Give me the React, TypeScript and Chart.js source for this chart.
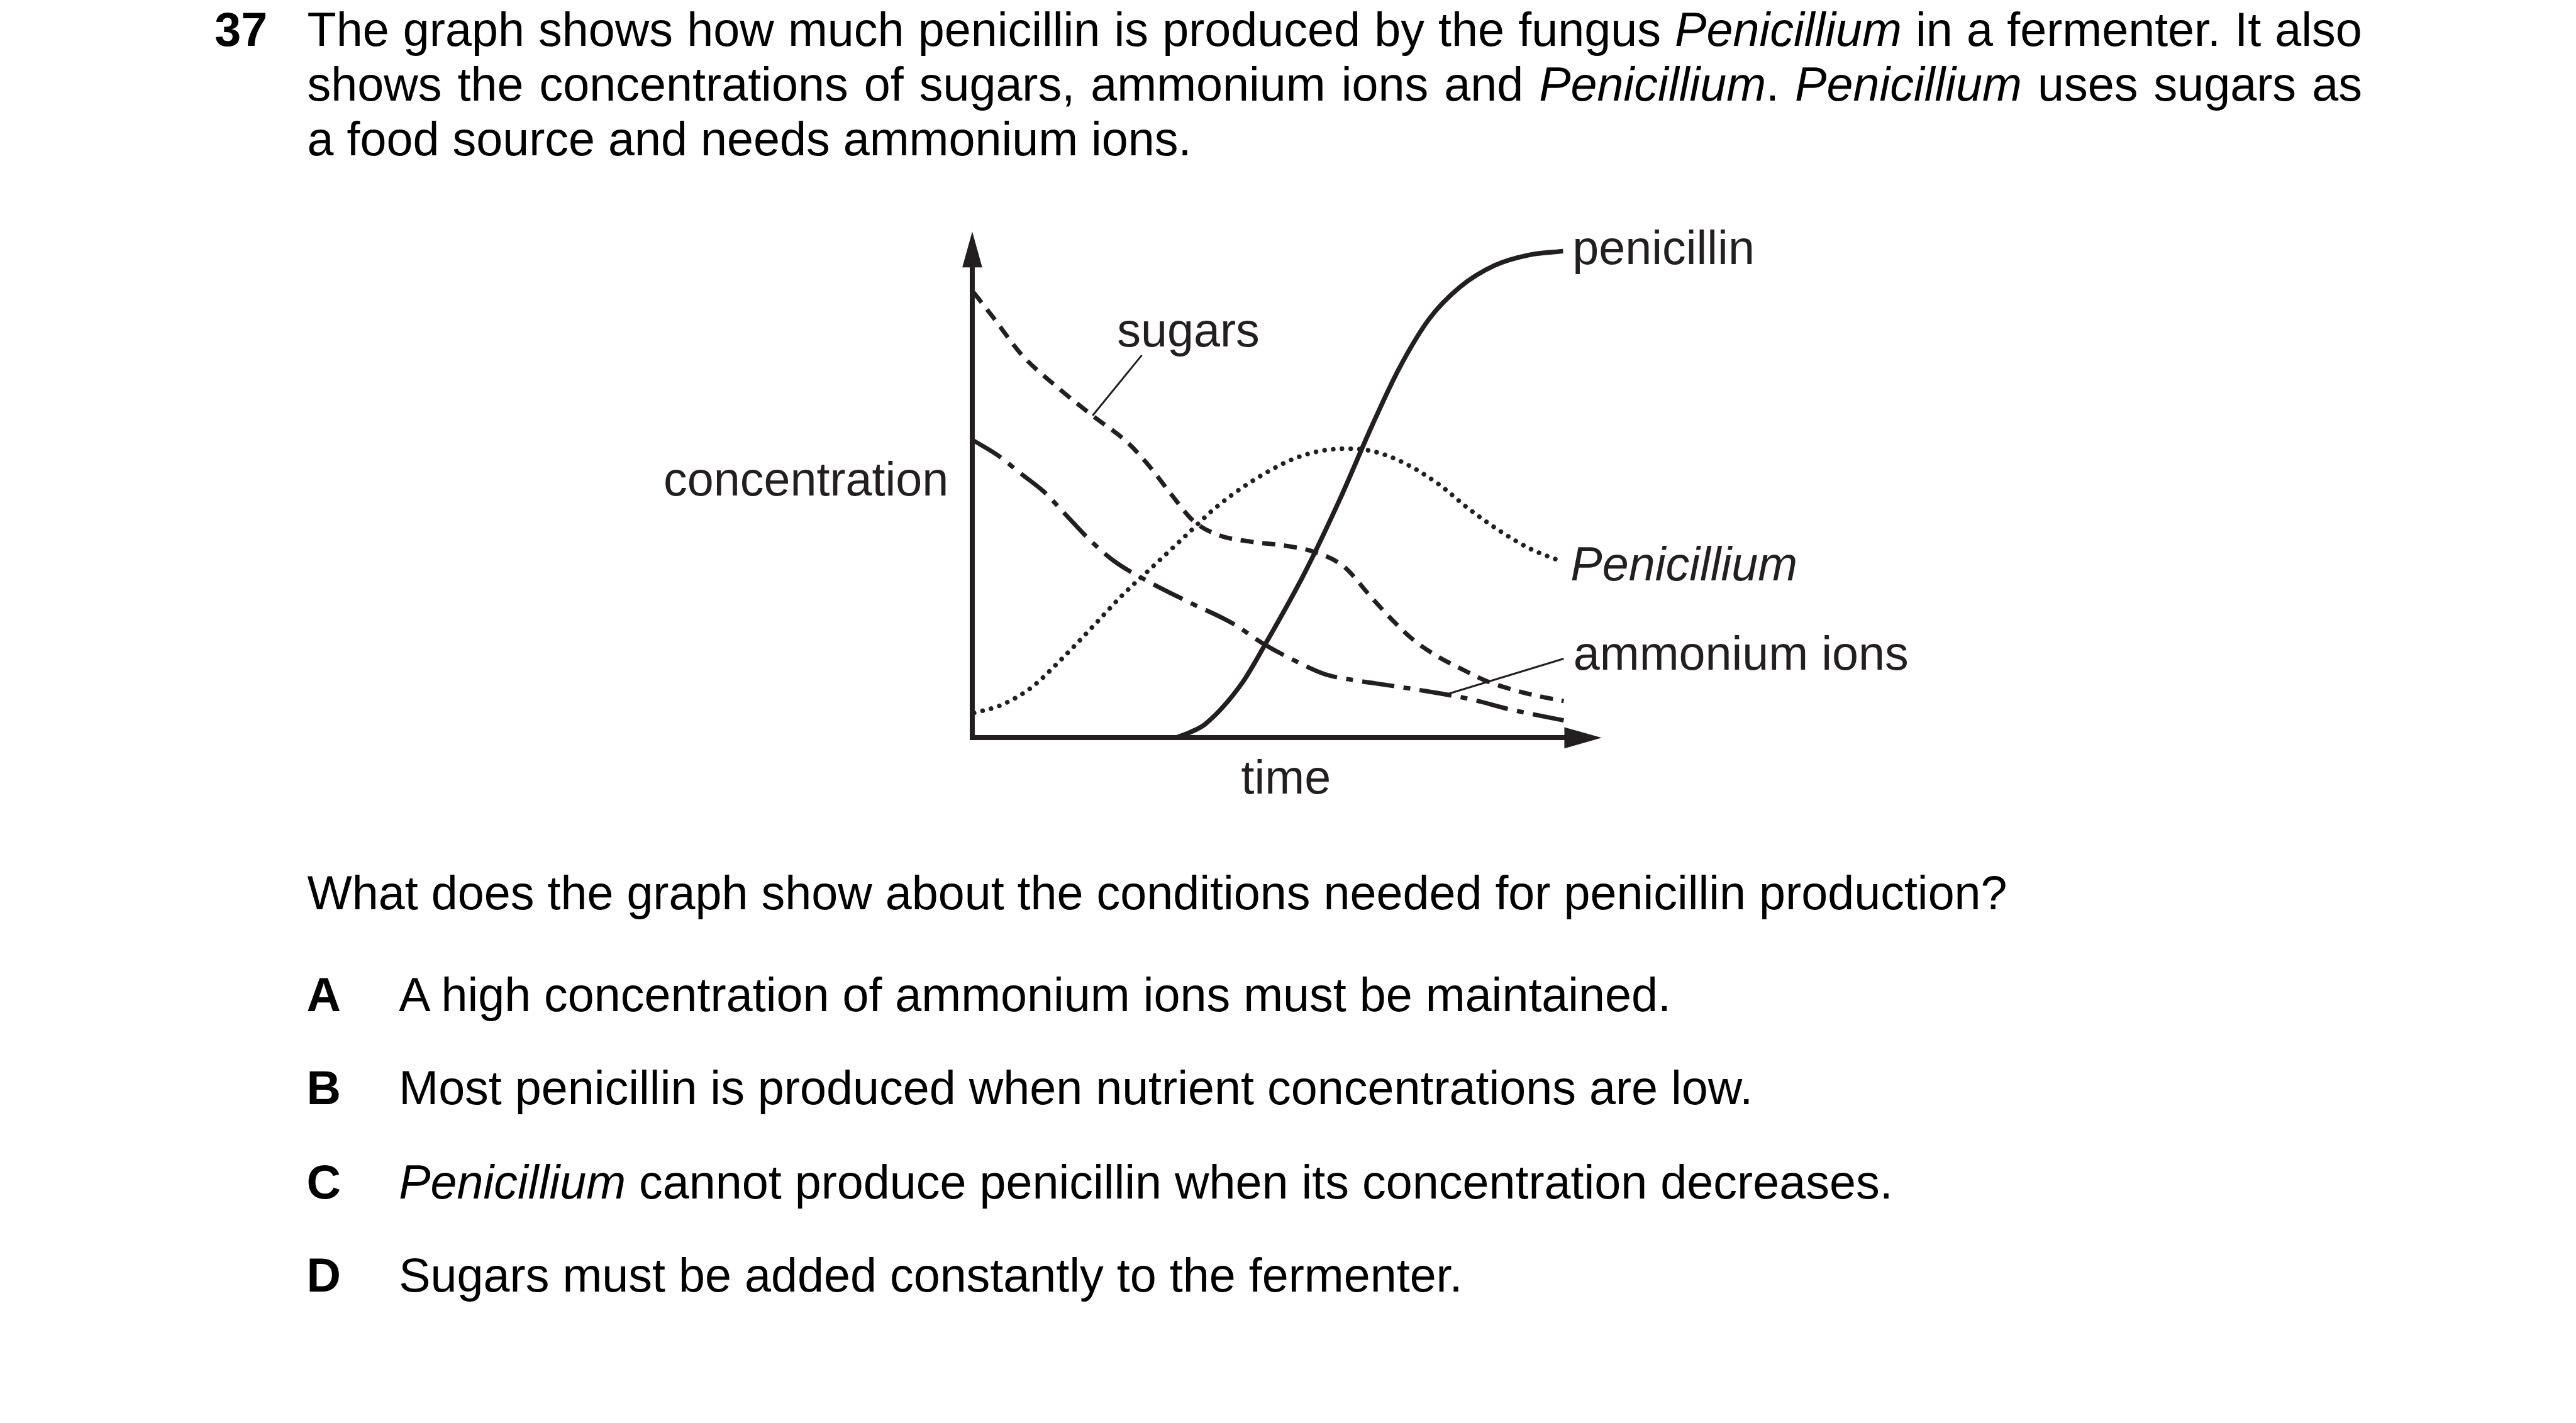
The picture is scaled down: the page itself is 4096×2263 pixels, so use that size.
import React, { useEffect, useRef } from "react";
import { Chart, registerables } from "chart.js";

Chart.register(...registerables);

// ---------------- data (time units, concentration units) ----------------
const penicillinTime = [32.6, 35.0, 37.5, 43.3, 47.0, 53.3, 58.9, 64.1, 68.4, 73.3, 78.2, 83.8, 89.4, 94.8];
const penicillinConc = [0, 0.9, 2.3, 8.8, 15.0, 26.4, 38.1, 50.0, 59.1, 67.2, 72.3, 75.8, 77.5, 78.1];

const sugarsTime = [0.2, 3.1, 8.0, 13.6, 19.3, 24.9, 28.4, 31.9, 35.5, 39.6, 44.5, 50.4, 55.0, 59.6, 63.9, 67.3, 70.8, 74.6, 78.4, 82.3, 86.1, 89.9, 94.9];
const sugarsConc = [71.5, 67.8, 61.4, 56.3, 51.7, 47.4, 43.6, 39.1, 34.8, 32.5, 31.5, 30.8, 29.8, 27.5, 22.7, 19.0, 15.7, 13.1, 11.1, 9.2, 7.9, 6.9, 5.9];

const ammoniumTime = [0.2, 4.0, 7.8, 11.6, 15.1, 18.9, 22.7, 28.4, 34.7, 41.7, 46.7, 51.7, 56.6, 61.6, 67.0, 74.6, 80.4, 86.1, 94.9];
const ammoniumConc = [47.7, 45.4, 42.4, 39.4, 35.7, 31.7, 28.4, 25.0, 21.8, 18.4, 15.1, 12.4, 10.2, 9.2, 8.4, 7.2, 6.1, 4.6, 2.8];

const penicilliumTime = [0.3, 4.5, 9.4, 14.3, 19.3, 24.2, 29.1, 34.0, 38.9, 44.3, 51.4, 55.7, 59.9, 64.2, 69.1, 74.7, 79.6, 84.5, 89.4, 94.8];
const penicilliumConc = [4.0, 5.2, 8.0, 12.6, 17.8, 23.0, 27.6, 32.2, 36.8, 40.8, 44.7, 46.0, 46.4, 46.0, 44.2, 40.8, 36.8, 33.3, 30.4, 28.2];

// label leader lines
const sugarsLeaderTime = [27.2, 19.3];
const sugarsLeaderConc = [61.4, 51.7];
const ammoniumLeaderTime = [94.9, 76.5];
const ammoniumLeaderConc = [12.7, 7.1];

// texts
const questionNumber = "37";
const stemLines: [string, boolean][][] = [
  [["The graph shows how much penicillin is produced by the fungus ", false], ["Penicillium", true], [" in a fermenter. It also", false]],
  [["shows the concentrations of sugars, ammonium ions and ", false], ["Penicillium", true], [". ", false], ["Penicillium", true], [" uses sugars as", false]],
  [["a food source and needs ammonium ions.", false]],
];
const questionText = "What does the graph show about the conditions needed for penicillin production?";
const optionLetters = ["A", "B", "C", "D"];
const optionTexts: [string, boolean][][] = [
  [["A high concentration of ammonium ions must be maintained.", false]],
  [["Most penicillin is produced when nutrient concentrations are low.", false]],
  [["Penicillium", true], [" cannot produce penicillin when its concentration decreases.", false]],
  [["Sugars must be added constantly to the fermenter.", false]],
];
const yAxisLabel = "concentration";
const xAxisLabel = "time";
const seriesLabels = ["penicillin", "Penicillium", "ammonium ions", "sugars"];

// ---------------- layout / style ----------------
const S = 0.991;
const W = 4096;
const H = 2263;
const FONT = '"Liberation Sans", Arial, Helvetica, sans-serif';
const FS = 76.2 * S;
const INK = "#231f20";
const X_MAX = 95;
const Y_MAX = 75.5;

// chart-area edges in reference pixels
const AREA_LEFT = 1560 * S;
const AREA_RIGHT = 2510 * S;
const AREA_TOP = 429 * S;
const AREA_BOTTOM = 1184 * S;

const labelAnchors = [
  { text: seriesLabels[0], x: 96.3, y: 75.98, align: "left", italic: false },
  { text: seriesLabels[1], x: 96.0, y: 25.22, align: "left", italic: true },
  { text: seriesLabels[2], x: 96.45, y: 10.93, align: "left", italic: false },
  { text: seriesLabels[3], x: 23.23, y: 62.8, align: "left", italic: false },
  { text: yAxisLabel, x: -3.8, y: 38.9, align: "right", italic: false },
  { text: xAxisLabel, x: 50.35, y: -8.93, align: "center", italic: false },
];

const toPoints = (xs: number[], ys: number[]) => xs.map((x, i) => ({ x, y: ys[i] }));

const decorPlugin = {
  id: "decor",
  afterDatasetsDraw(chart: any) {
    const { ctx, chartArea, scales } = chart;
    const { left, right, top, bottom } = chartArea;
    ctx.save();
    ctx.fillStyle = INK;
    // y-axis arrowhead
    ctx.beginPath();
    ctx.moveTo(left, top - 57.4 * S);
    ctx.lineTo(left - 16 * S, top);
    ctx.lineTo(left + 16 * S, top);
    ctx.closePath();
    ctx.fill();
    // x-axis arrowhead
    ctx.beginPath();
    ctx.moveTo(right + 60 * S, bottom);
    ctx.lineTo(right, bottom - 17 * S);
    ctx.lineTo(right, bottom + 17 * S);
    ctx.closePath();
    ctx.fill();
    // labels
    ctx.textBaseline = "alphabetic";
    for (const l of labelAnchors) {
      ctx.font = `${l.italic ? "italic " : ""}${FS}px ${FONT}`;
      ctx.textAlign = l.align;
      ctx.fillText(l.text, scales.x.getPixelForValue(l.x), scales.y.getPixelForValue(l.y));
    }
    ctx.restore();
  },
};

function ChartCanvas() {
  const ref = useRef<HTMLCanvasElement | null>(null);
  useEffect(() => {
    if (!ref.current) return;
    const lineBase = {
      borderColor: INK,
      pointRadius: 0,
      fill: false,
      clip: false as any,
      borderCapStyle: "butt" as const,
    };
    const chart = new Chart(ref.current, {
      type: "line",
      data: {
        datasets: [
          { ...lineBase, label: "penicillin", data: toPoints(penicillinTime, penicillinConc), borderWidth: 7.5 * S, cubicInterpolationMode: "monotone" },
          { ...lineBase, label: "sugars", data: toPoints(sugarsTime, sugarsConc), borderWidth: 7 * S, borderDash: [21 * S, 14 * S], cubicInterpolationMode: "monotone" },
          { ...lineBase, label: "ammonium ions", data: toPoints(ammoniumTime, ammoniumConc), borderWidth: 7 * S, borderDash: [52 * S, 15 * S, 11 * S, 15 * S], cubicInterpolationMode: "monotone" },
          { ...lineBase, label: "Penicillium", data: toPoints(penicilliumTime, penicilliumConc), borderWidth: 7.5 * S, borderDash: [0.01, 14 * S], borderCapStyle: "round", cubicInterpolationMode: "monotone" },
          { ...lineBase, label: "sugars leader", data: toPoints(sugarsLeaderTime, sugarsLeaderConc), borderWidth: 3 * S, tension: 0 },
          { ...lineBase, label: "ammonium leader", data: toPoints(ammoniumLeaderTime, ammoniumLeaderConc), borderWidth: 3 * S, tension: 0 },
        ] as any,
      },
      options: {
        animation: false,
        responsive: false,
        devicePixelRatio: 1,
        events: [],
        layout: {
          padding: {
            left: AREA_LEFT,
            right: W - AREA_RIGHT,
            top: AREA_TOP,
            bottom: H - AREA_BOTTOM,
          },
        },
        plugins: { legend: { display: false }, tooltip: { enabled: false }, title: { display: false } },
        scales: {
          x: {
            type: "linear",
            min: 0,
            max: X_MAX,
            grid: { display: false, drawTicks: false },
            ticks: { display: false },
            border: { display: true, width: 8 * S, color: INK },
          },
          y: {
            type: "linear",
            min: 0,
            max: Y_MAX,
            grid: { display: false, drawTicks: false },
            ticks: { display: false },
            border: { display: true, width: 8 * S, color: INK },
          },
        },
      } as any,
      plugins: [decorPlugin as any],
    });
    return () => chart.destroy();
  }, []);
  return (
    <canvas
      ref={ref}
      width={W}
      height={H}
      style={{ position: "absolute", left: 0, top: 0, width: W, height: H, display: "block" }}
    />
  );
}

const BASE = 0.8465; // baseline offset within a line box of height 1em (Liberation Sans)
const topFor = (baselineRef: number) => baselineRef * S - BASE * FS;

function Segs({ segs }: { segs: [string, boolean][] }) {
  return (
    <>
      {segs.map(([t, it], i) => (
        <span key={i} style={{ fontStyle: it ? "italic" : "normal" }}>{t}</span>
      ))}
    </>
  );
}

const textStyle: React.CSSProperties = {
  position: "absolute",
  fontFamily: FONT,
  fontSize: FS,
  lineHeight: `${FS}px`,
  color: "#000",
  margin: 0,
  padding: 0,
};

export default function App() {
  const stemBaselines = [75, 162.5, 250];
  const optionBaselines = [1623.3, 1773.3, 1924, 2074];
  const textLeft = 493 * S;
  const textRight = 3790 * S;
  return (
    <div style={{ position: "absolute", left: 0, top: 0, width: W, height: H, background: "#fff", overflow: "hidden" }}>
      <ChartCanvas />
      <div style={{ ...textStyle, left: 344.4 * S, top: topFor(75), fontWeight: "bold", whiteSpace: "nowrap" }}>{questionNumber}</div>
      {stemLines.map((segs, i) => (
        <div
          key={i}
          style={{
            ...textStyle,
            left: textLeft,
            top: topFor(stemBaselines[i]),
            width: i < 2 ? textRight - textLeft : undefined,
            textAlign: i < 2 ? "justify" : "left",
            textAlignLast: i < 2 ? "justify" : "auto",
            whiteSpace: i < 2 ? "normal" : "nowrap",
          } as React.CSSProperties}
        >
          <Segs segs={segs} />
        </div>
      ))}
      <div style={{ ...textStyle, left: textLeft, top: topFor(1460), whiteSpace: "nowrap" }}>{questionText}</div>
      {optionLetters.map((l, i) => (
        <React.Fragment key={l}>
          <div style={{ ...textStyle, left: 492 * S, top: topFor(optionBaselines[i]), fontWeight: "bold" }}>{l}</div>
          <div style={{ ...textStyle, left: 640 * S, top: topFor(optionBaselines[i]), whiteSpace: "nowrap" }}>
            <Segs segs={optionTexts[i]} />
          </div>
        </React.Fragment>
      ))}
    </div>
  );
}
